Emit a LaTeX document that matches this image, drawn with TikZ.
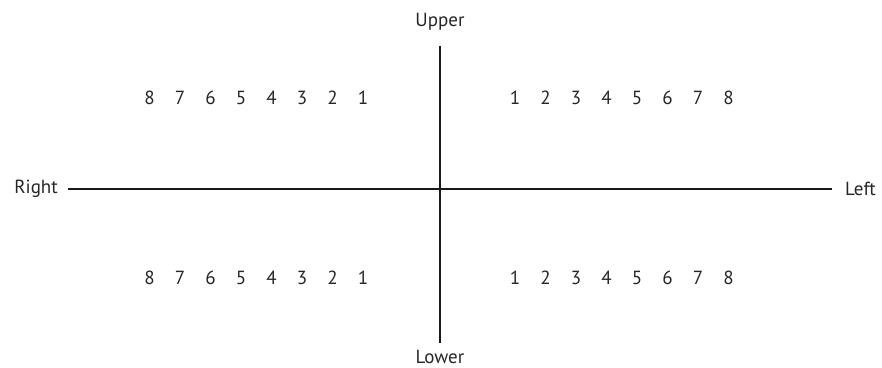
\documentclass[tikz,border=0pt]{standalone}
\usepackage{fontspec}
\setmainfont{PT Sans}
\usetikzlibrary{positioning}

\begin{document}
\begin{tikzpicture}[x=1pt,y=1pt,font=\fontsize{19}{22}\selectfont,lbl/.style={inner sep=0pt,text=black!85},num/.style={inner sep=0pt,text=black!85},axis/.style={line width=1.6pt,black!90}]
\useasboundingbox (0,0) rectangle (882,367);
\node[lbl,anchor=base] (up) at (440,340) {Upper};
\node[lbl,anchor=base] (lo) at (440,4) {Lower};
\node[lbl,anchor=east] (rt) at (58,178) {Right};
\node[lbl,anchor=west] (lt) at (845,178) {Left};
\coordinate (vtop) at (440,321); \coordinate (vbot) at (440,24);
\coordinate (hl) at (68,178); \coordinate (hr) at (832,178);
\draw[axis] (hl)--(hr); \draw[axis] (vtop)--(vbot);
\foreach \i in {1,...,8} {
  \node[num] (ur\i) at ({515+30.5*(\i-1)},269) {\i};
  \node[num] (ul\i) at ({363-30.5*(\i-1)},269) {\i};
  \node[num] (lr\i) at ({515+30.5*(\i-1)},89) {\i};
  \node[num] (ll\i) at ({363-30.5*(\i-1)},89) {\i};
}
\end{tikzpicture}
\end{document}
